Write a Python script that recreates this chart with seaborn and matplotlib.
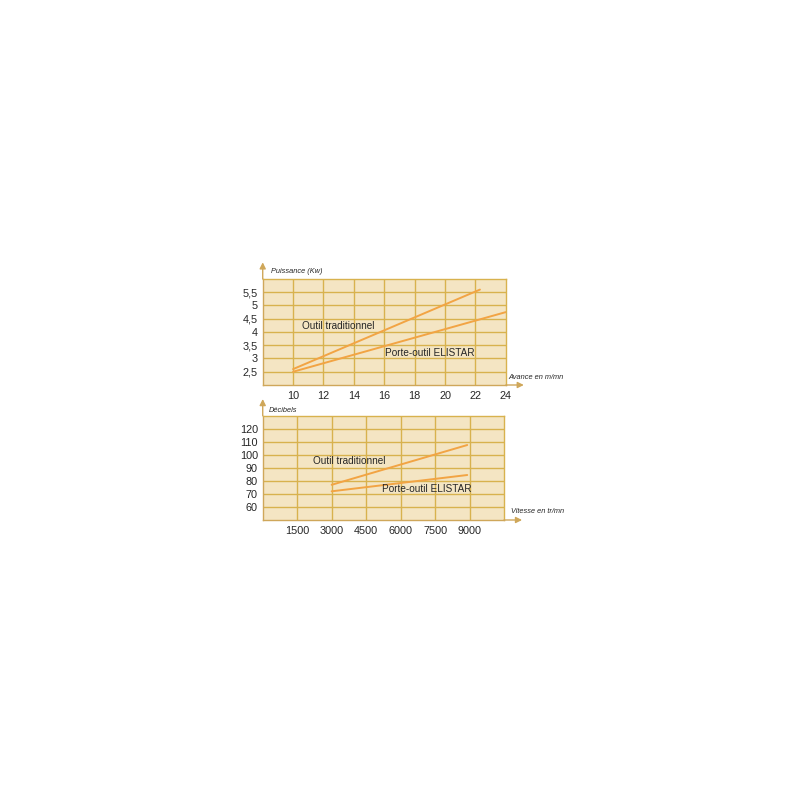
import pandas as pd
import matplotlib
matplotlib.use("Agg")
import matplotlib.pyplot as plt
import seaborn as sns

# --- Data ---
# top chart: power (kW) vs feed (m/min)
avance_trad = [10, 22.3]
puissance_trad = [2.6, 5.6]
avance_elistar = [10, 24]
puissance_elistar = [2.5, 4.75]
top_xticks = [10, 12, 14, 16, 18, 20, 22, 24]
top_yticks = [2.5, 3, 3.5, 4, 4.5, 5, 5.5]
top_ylabels = ["2,5", "3", "3,5", "4", "4,5", "5", "5,5"]

# bottom chart: decibels vs speed (tr/mn)
vitesse_trad = [3000, 8900]
db_trad = [77, 107.5]
vitesse_elistar = [3000, 8900]
db_elistar = [72, 84.5]
bot_xticks = [1500, 3000, 4500, 6000, 7500, 9000]
bot_yticks = [60, 70, 80, 90, 100, 110, 120]

sns.set_style("white")
plt.rcParams["font.family"] = ["Liberation Sans", "DejaVu Sans"]

BG = "#f4e5c3"
GRID = "#d8b24e"
LINE = "#f2a444"
AXIS = "#cfa75a"
TXT = "#262626"


def make_panel(ax, xlim, ylim, xgrid, ygrid):
    ax.set_facecolor(BG)
    ax.set_xlim(*xlim)
    ax.set_ylim(*ylim)
    for v in xgrid:
        ax.axvline(v, color=GRID, lw=1.0, zorder=1)
    for v in ygrid:
        ax.axhline(v, color=GRID, lw=1.0, zorder=1)
    for s in ["top", "right"]:
        ax.spines[s].set_color(GRID)
        ax.spines[s].set_linewidth(1.0)
    for s in ["left", "bottom"]:
        ax.spines[s].set_color(AXIS)
        ax.spines[s].set_linewidth(1.0)
    ax.tick_params(axis="x", length=0, pad=4, labelsize=7.8, colors=TXT)
    ax.tick_params(axis="y", length=2.5, width=0.8, color="#555555", pad=1,
                   labelsize=7.8, colors=TXT)
    # arrows on the two axes
    ax.annotate("", xy=(0, 1), xycoords="axes fraction",
                xytext=(0, 12), textcoords="offset points",
                arrowprops=dict(arrowstyle="<|-", color=AXIS, lw=1.0,
                                mutation_scale=9, shrinkA=0, shrinkB=0))
    ax.annotate("", xy=(1, 0), xycoords="axes fraction",
                xytext=(13, 0), textcoords="offset points",
                arrowprops=dict(arrowstyle="<|-", color=AXIS, lw=1.0,
                                mutation_scale=9, shrinkA=0, shrinkB=0))


fig = plt.figure(figsize=(8, 8), dpi=100)
fig.patch.set_facecolor("white")

# --- top chart ---
ax1 = fig.add_axes([0.3284, 0.51875, 0.3038, 0.1325])
make_panel(ax1, (8, 24), (2, 6),
           [10, 12, 14, 16, 18, 20, 22],
           [2.5, 3, 3.5, 4, 4.5, 5, 5.5])
top_df = pd.concat([
    pd.DataFrame({"x": avance_trad, "y": puissance_trad, "serie": "trad"}),
    pd.DataFrame({"x": avance_elistar, "y": puissance_elistar, "serie": "elistar"}),
])
sns.lineplot(data=top_df, x="x", y="y", units="serie", estimator=None,
             color=LINE, lw=1.4, ax=ax1, zorder=3, legend=False)
ax1.set_xticks(top_xticks)
ax1.set_yticks(top_yticks)
ax1.set_yticklabels(top_ylabels)
ax1.set_xlabel("")
ax1.set_ylabel("")
ax1.text(13.0, 4.23, "Outil traditionnel", ha="center", va="center",
         fontsize=7.2, color=TXT, zorder=4)
ax1.text(18.97, 3.2, "Porte-outil ELISTAR", ha="center", va="center",
         fontsize=7.2, color=TXT, zorder=4)
ax1.text(0.035, 1.04, "Puissance (Kw)", transform=ax1.transAxes,
         fontsize=5.3, style="italic", color=TXT, va="bottom")
ax1.text(1.01, 0.04, "Avance en m/mn", transform=ax1.transAxes,
         fontsize=5.3, style="italic", color=TXT, va="bottom")

# --- bottom chart ---
ax2 = fig.add_axes([0.3284, 0.35, 0.3016, 0.1304])
make_panel(ax2, (0, 10500), (50, 130),
           [1500, 3000, 4500, 6000, 7500, 9000],
           [60, 70, 80, 90, 100, 110, 120])
bot_df = pd.concat([
    pd.DataFrame({"x": vitesse_trad, "y": db_trad, "serie": "trad"}),
    pd.DataFrame({"x": vitesse_elistar, "y": db_elistar, "serie": "elistar"}),
])
sns.lineplot(data=bot_df, x="x", y="y", units="serie", estimator=None,
             color=LINE, lw=1.4, ax=ax2, zorder=3, legend=False)
ax2.set_xticks(bot_xticks)
ax2.set_yticks(bot_yticks)
ax2.set_xlabel("")
ax2.set_ylabel("")
ax2.text(3780, 95.2, "Outil traditionnel", ha="center", va="center",
         fontsize=7.2, color=TXT, zorder=4)
ax2.text(7158, 73.5, "Porte-outil ELISTAR", ha="center", va="center",
         fontsize=7.2, color=TXT, zorder=4)
ax2.text(0.025, 1.02, "Décibels", transform=ax2.transAxes,
         fontsize=5.3, style="italic", color=TXT, va="bottom")
ax2.text(1.03, 0.05, "Vitesse en tr/mn", transform=ax2.transAxes,
         fontsize=5.3, style="italic", color=TXT, va="bottom")

fig.savefig("out.png", dpi=100, facecolor="white")
